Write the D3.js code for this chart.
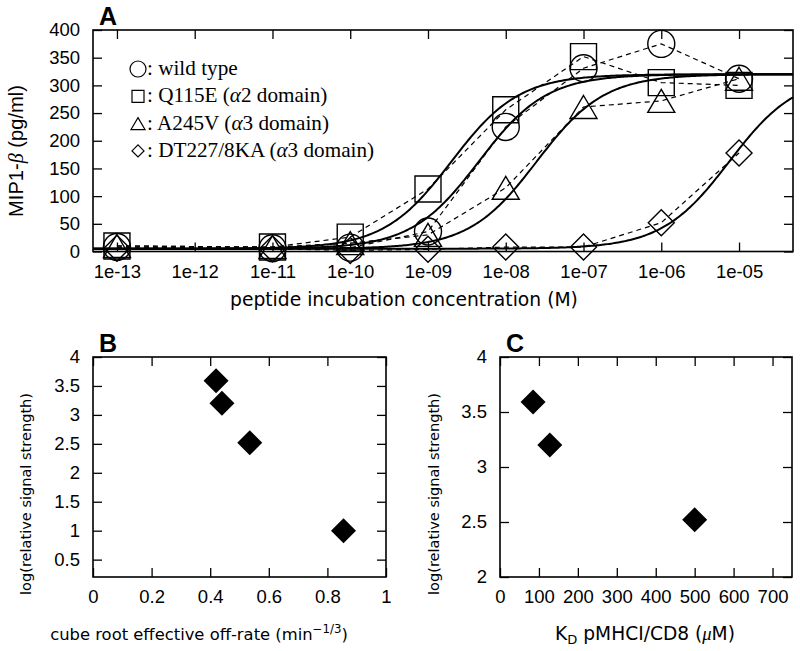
<!DOCTYPE html>
<html>
<head>
<meta charset="utf-8">
<script src="https://cdn.jsdelivr.net/npm/d3@7"></script>
<style>
  body { margin: 0; background: #fff; }
  .tick text { font-family: "Liberation Sans", Arial, sans-serif; font-size: 18.5px; fill: #000; }
  .tick line { stroke: #000; stroke-width: 1.3; }
</style>
</head>
<body>
<svg id="chart" width="800" height="651"></svg>
<script>
// ---- data ----
var concentrations = [1e-13, 1e-11, 1e-10, 1e-9, 1e-8, 1e-7, 1e-6, 1e-5];
var wildType = [8, 6, 7, 36, 225, 331, 375, 312];
var q115e = [10, 8, 26, 113, 256, 352, 305, 300];
var a245v = [10, 8, 15, 30, 115, 261, 272, 312];
var dt227 = [6, 5, 2, 4, 8, 8, 52, 178];

// fitted dose-response curves: [bottom, top, EC50, hill]
var fitWildType = [5, 320, 4.5e-9, 1];
var fitQ115e = [5, 320, 2e-9, 1];
var fitA245v = [5, 320, 2.5e-8, 1];
var fitDt227 = [5, 320, 7.5e-6, 1];

var legendLabels = ["wild type", "Q115E", "A245V", "DT227/8KA"];
var legendDomains = ["2", "3", "3"];

var xTicksA = [1e-13, 1e-12, 1e-11, 1e-10, 1e-9, 1e-8, 1e-7, 1e-6, 1e-5];
var xTickLabelsA = ["1e-13", "1e-12", "1e-11", "1e-10", "1e-09", "1e-08", "1e-07", "1e-06", "1e-05"];
var yTicksA = [0, 50, 100, 150, 200, 250, 300, 350, 400];

// panel B: cube root off-rate vs log signal strength
var offRate = [0.42, 0.44, 0.535, 0.855];
var signalB = [3.59, 3.2, 2.52, 1.0];
var xTicksB = [0, 0.2, 0.4, 0.6, 0.8, 1];
var yTicksB = [0.5, 1, 1.5, 2, 2.5, 3, 3.5, 4];

// panel C: KD vs log signal strength
var kd = [85, 128, 500];
var signalC = [3.59, 3.2, 2.52];
var xTicksC = [0, 100, 200, 300, 400, 500, 600, 700];
var yTicksC = [2, 2.5, 3, 3.5, 4];

var svg = d3.select("#chart");
svg.append("rect").attr("width", 800).attr("height", 651).attr("fill", "#fff");

var sansLabel = "'DejaVu Sans', Verdana, sans-serif";
var tickLen = 9;

// scale a text's font sizes so it spans the wanted width
function fitWidth(t, want) {
  var w = t.node().getComputedTextLength();
  var k = want / w;
  t.attr("font-size", +t.attr("font-size") * k);
  t.selectAll("tspan").each(function() {
    var ts = d3.select(this);
    if (ts.attr("font-size")) ts.attr("font-size", +ts.attr("font-size") * k);
    if (ts.attr("dy")) ts.attr("dy", +ts.attr("dy") * k);
  });
}

// draw frame + inward ticks on all 4 sides
function drawFrame(g, x, y, xT, yT, xFmt, yFmt, box) {
  g.append("g")
    .attr("transform", `translate(0,${box.bottom})`)
    .call(d3.axisBottom(x).tickValues(xT).tickSize(-tickLen).tickPadding(13).tickFormat(xFmt))
    .call(a => a.select(".domain").remove());
  g.append("g")
    .attr("transform", `translate(0,${box.top})`)
    .call(d3.axisTop(x).tickValues(xT).tickSize(-tickLen).tickFormat(""))
    .call(a => a.select(".domain").remove());
  g.append("g")
    .attr("transform", `translate(${box.left},0)`)
    .call(d3.axisLeft(y).tickValues(yT).tickSize(-tickLen).tickPadding(13).tickFormat(yFmt))
    .call(a => a.select(".domain").remove());
  g.append("g")
    .attr("transform", `translate(${box.right},0)`)
    .call(d3.axisRight(y).tickValues(yT).tickSize(-tickLen).tickFormat(""))
    .call(a => a.select(".domain").remove());
  g.append("rect")
    .attr("x", box.left).attr("y", box.top)
    .attr("width", box.right - box.left).attr("height", box.bottom - box.top)
    .attr("fill", "none").attr("stroke", "#000").attr("stroke-width", 1.6);
}

// marker paths
function markerPath(type, cx, cy, s) {
  if (type === "circle") {
    return `M${cx - s},${cy}a${s},${s} 0 1,0 ${2 * s},0a${s},${s} 0 1,0 ${-2 * s},0Z`;
  } else if (type === "square") {
    return `M${cx - s},${cy - s}h${2 * s}v${2 * s}h${-2 * s}Z`;
  } else if (type === "triangle") {
    var h = s * 1.7;
    return `M${cx},${cy - h / 2}L${cx + s},${cy + h / 2}L${cx - s},${cy + h / 2}Z`;
  } else {
    return `M${cx},${cy - s}L${cx + s},${cy}L${cx},${cy + s}L${cx - s},${cy}Z`;
  }
}

// ---------------- Panel A ----------------
var boxA = {left: 93, top: 30, right: 793, bottom: 251.5};
var xA = d3.scaleLog().domain([Math.pow(10, -13.308), Math.pow(10, -4.306)]).range([boxA.left, boxA.right]);
var yA = d3.scaleLinear().domain([0, 400]).range([boxA.bottom, boxA.top]);
var gA = svg.append("g");

var series = [
  {vals: wildType, fit: fitWildType, shape: "circle", size: 13.5},
  {vals: q115e, fit: fitQ115e, shape: "square", size: 13},
  {vals: a245v, fit: fitA245v, shape: "triangle", size: 13.5},
  {vals: dt227, fit: fitDt227, shape: "diamond", size: 13}
];

var curveX = d3.range(0, 401).map(i => Math.pow(10, -13.308 + i * (9.002 / 400)));
var curveLine = d3.line().x(d => xA(d[0])).y(d => yA(d[1]));
var dashLine = d3.line().x(d => xA(d[0])).y(d => yA(d[1]));

series.forEach(function(s) {
  var f = s.fit;
  var pts = curveX.map(c => [c, f[0] + (f[1] - f[0]) * Math.pow(c, f[3]) / (Math.pow(c, f[3]) + Math.pow(f[2], f[3]))]);
  gA.append("path").attr("d", curveLine(pts))
    .attr("fill", "none").attr("stroke", "#000").attr("stroke-width", 2);
});

series.forEach(function(s) {
  var pts = concentrations.map((c, i) => [c, s.vals[i]]);
  gA.append("path").attr("d", dashLine(pts))
    .attr("fill", "none").attr("stroke", "#000").attr("stroke-width", 1.2)
    .attr("stroke-dasharray", "5,4");
});

series.forEach(function(s) {
  gA.selectAll(null)
    .data(concentrations.map((c, i) => [c, s.vals[i]]))
    .enter().append("path")
    .attr("d", d => markerPath(s.shape, xA(d[0]), yA(d[1]), s.size))
    .attr("fill", "none").attr("stroke", "#000").attr("stroke-width", 1.4);
});

drawFrame(gA, xA, yA, xTicksA, yTicksA, (d, i) => xTickLabelsA[i], d3.format("d"), boxA);

// legend
var legendShapes = ["circle", "square", "triangle", "diamond"];
var legendSizes = [8, 6, 7, 6];
legendLabels.forEach(function(lab, i) {
  var by = 75 + i * 27.3;
  gA.append("path")
    .attr("d", markerPath(legendShapes[i], 138, by - 6, legendSizes[i]))
    .attr("fill", "none").attr("stroke", "#000").attr("stroke-width", 1.2);
  var t = gA.append("text")
    .attr("x", 147).attr("y", by)
    .attr("font-family", "'Liberation Serif', 'Times New Roman', serif")
    .attr("font-size", 21.2);
  t.append("tspan").text(": " + lab);
  if (i > 0) {
    t.append("tspan").text(" (");
    t.append("tspan").attr("font-style", "italic").text("\u03b1");
    t.append("tspan").text(legendDomains[i - 1] + " domain)");
  }
});

// labels
svg.append("text").attr("x", 99).attr("y", 25)
  .attr("font-family", "'Liberation Sans', Arial, sans-serif").attr("font-weight", "bold")
  .attr("font-size", 25).text("A");

var yLabA = svg.append("text")
  .attr("transform", "translate(23,151) rotate(-90)")
  .attr("text-anchor", "middle")
  .attr("font-family", "'Liberation Sans', Arial, sans-serif").attr("font-size", 19);
yLabA.append("tspan").text("MIP1-");
yLabA.append("tspan").attr("font-family", "'Liberation Serif', serif").attr("font-style", "italic").text("\u03b2");
yLabA.append("tspan").text(" (pg/ml)");
fitWidth(yLabA, 132);

var xLabA = svg.append("text").attr("x", 230).attr("y", 306)
  .attr("font-family", sansLabel).attr("font-size", 18.7)
  .text("peptide incubation concentration (M)");
fitWidth(xLabA, 348);

// ---------------- Panel B ----------------
var boxB = {left: 93, top: 357, right: 386, bottom: 577};
var xB = d3.scaleLinear().domain([0, 1]).range([boxB.left, boxB.right]);
var yB = d3.scaleLinear().domain([0.2, 4]).range([boxB.bottom, boxB.top]);
var gB = svg.append("g");

drawFrame(gB, xB, yB, xTicksB, yTicksB, d3.format("~g"), d3.format("~g"), boxB);

gB.selectAll(null)
  .data(offRate.map((o, i) => [o, signalB[i]]))
  .enter().append("path")
  .attr("d", d => markerPath("diamond", xB(d[0]), yB(d[1]), 12.5))
  .attr("fill", "#000");

svg.append("text").attr("x", 99).attr("y", 352)
  .attr("font-family", "'Liberation Sans', Arial, sans-serif").attr("font-weight", "bold")
  .attr("font-size", 25).text("B");

var yLabB = svg.append("text")
  .attr("transform", "translate(31,494) rotate(-90)")
  .attr("text-anchor", "middle")
  .attr("font-family", sansLabel).attr("font-size", 14.5)
  .text("log(relative signal strength)");
fitWidth(yLabB, 202);

var xLabB = svg.append("text").attr("x", 199).attr("y", 640)
  .attr("text-anchor", "middle")
  .attr("font-family", sansLabel).attr("font-size", 16);
xLabB.append("tspan").text("cube root effective off-rate (min");
xLabB.append("tspan").attr("font-size", 11.5).attr("dy", -7).text("\u22121/3");
xLabB.append("tspan").attr("dy", 7).text(")");
fitWidth(xLabB, 298);

// ---------------- Panel C ----------------
var boxC = {left: 500, top: 357, right: 792, bottom: 577};
var xC = d3.scaleLinear().domain([0, 750]).range([boxC.left, boxC.right]);
var yC = d3.scaleLinear().domain([2, 4]).range([boxC.bottom, boxC.top]);
var gC = svg.append("g");

drawFrame(gC, xC, yC, xTicksC, yTicksC, d3.format("d"), d3.format("~g"), boxC);

gC.selectAll(null)
  .data(kd.map((k, i) => [k, signalC[i]]))
  .enter().append("path")
  .attr("d", d => markerPath("diamond", xC(d[0]), yC(d[1]), 12.5))
  .attr("fill", "#000");

svg.append("text").attr("x", 506).attr("y", 352)
  .attr("font-family", "'Liberation Sans', Arial, sans-serif").attr("font-weight", "bold")
  .attr("font-size", 25).text("C");

var yLabC = svg.append("text")
  .attr("transform", "translate(439,494) rotate(-90)")
  .attr("text-anchor", "middle")
  .attr("font-family", sansLabel).attr("font-size", 14.5)
  .text("log(relative signal strength)");
fitWidth(yLabC, 202);

var xLabC = svg.append("text").attr("x", 645).attr("y", 640)
  .attr("text-anchor", "middle")
  .attr("font-family", sansLabel).attr("font-size", 18.5);
xLabC.append("tspan").text("K");
xLabC.append("tspan").attr("font-size", 13).attr("dy", 4).text("D");
xLabC.append("tspan").attr("dy", -4).text(" pMHCI/CD8 (");
xLabC.append("tspan").attr("font-family", "'Liberation Serif', serif").attr("font-style", "italic").text("\u03bc");
xLabC.append("tspan").text("M)");
fitWidth(xLabC, 180);
</script>
</body>
</html>
